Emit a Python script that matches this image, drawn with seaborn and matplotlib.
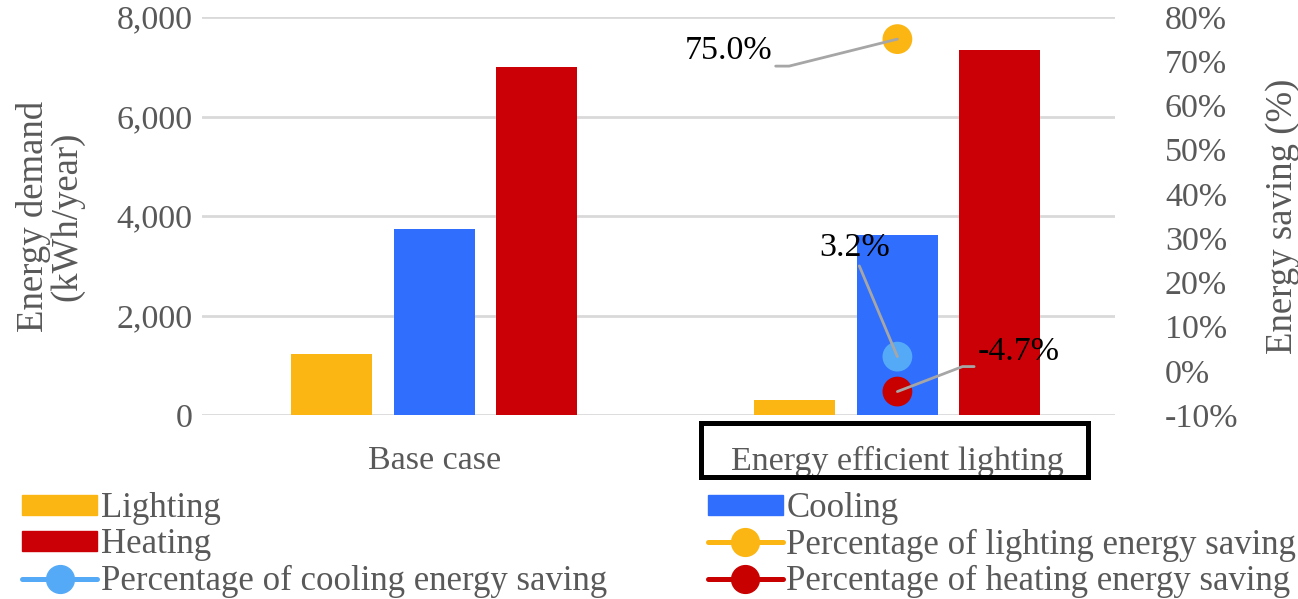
import numpy as np
import pandas as pd
import matplotlib
matplotlib.use("Agg")
import matplotlib.pyplot as plt
from matplotlib.patches import Rectangle, Patch
from matplotlib.lines import Line2D
from matplotlib.ticker import PercentFormatter, FuncFormatter
import seaborn as sns

# ---- data ----
scenarios = ["Base case", "Energy efficient lighting"]
end_uses = ["Lighting", "Cooling", "Heating"]
lighting = [1230, 305]
cooling = [3740, 3620]
heating = [7000, 7330]
saving_labels = ["Percentage of lighting energy saving",
                 "Percentage of cooling energy saving",
                 "Percentage of heating energy saving"]
saving_values = [0.750, 0.032, -0.047]   # for "Energy efficient lighting"
saving_texts = ["75.0%", "3.2%", "-4.7%"]

bar_colors = ["#FBB613", "#306EFD", "#CB0007"]
point_colors = ["#FBB613", "#55AAF7", "#C80000"]
GRAY = "#595959"

sns.set_style("white")
plt.rcParams["font.family"] = ["Liberation Serif", "DejaVu Serif"]
plt.rcParams["axes.unicode_minus"] = False

TICK_FS = 24.5
LAB_FS = 26.5
LEG_FS = 25
ANN_FS = 24.5

df = pd.DataFrame({
    "Scenario": scenarios * 3,
    "End use": [u for u in end_uses for _ in scenarios],
    "Energy": lighting + cooling + heating,
})

fig = plt.figure(figsize=(12.98, 5.99), dpi=100)
ax = fig.add_axes([202 / 1298, (599 - 415) / 599, (1115 - 202) / 1298, (415 - 17) / 599])

sns.barplot(data=df, x="Scenario", y="Energy", hue="End use", order=scenarios,
            hue_order=end_uses, palette=bar_colors, saturation=1,
            width=0.664, gap=0.21, linewidth=0, legend=False, ax=ax, zorder=2)

ax.set_xlim(-0.502, 1.47)
ax.set_ylim(0, 8000)
ax.set_yticks([0, 2000, 4000, 6000, 8000])
ax.yaxis.set_major_formatter(FuncFormatter(lambda v, p: f"{int(v):,}"))
ax.yaxis.grid(True, color="#D9D9D9", lw=2, zorder=0)
ax.set_axisbelow(True)
for s in ax.spines.values():
    s.set_visible(False)
ax.tick_params(axis="y", length=0, pad=7, labelsize=TICK_FS, labelcolor=GRAY)
ax.tick_params(axis="x", length=0, pad=22, labelsize=TICK_FS, labelcolor=GRAY)
ax.set_xlabel("")
ax.set_ylabel("Energy demand\n(kWh/year)", fontsize=LAB_FS, color=GRAY, labelpad=23,
              linespacing=0.95)

ax2 = ax.twinx()
sns.scatterplot(x=[1, 1, 1], y=saving_values, hue=saving_labels,
                palette=point_colors, s=460, linewidth=0, legend=False,
                ax=ax2, zorder=5, clip_on=False)
ax2.set_ylim(-0.10, 0.80)
ax2.set_yticks(np.arange(-0.1, 0.81, 0.1))
ax2.yaxis.set_major_formatter(PercentFormatter(1.0, decimals=0))
for s in ax2.spines.values():
    s.set_visible(False)
ax2.tick_params(axis="y", length=0, pad=36, labelsize=TICK_FS, labelcolor=GRAY)
ax2.set_ylabel("Energy saving (%)", fontsize=LAB_FS, color=GRAY, labelpad=19)
ax2.grid(False)

# data labels with leader lines
lead = dict(arrowstyle="-", color="#A6A6A6", lw=2, shrinkA=0, shrinkB=0)
ax2.annotate(saving_texts[0], xy=(1, saving_values[0]), xytext=(-125, -27),
             textcoords="offset pixels", ha="right", va="bottom", fontsize=ANN_FS,
             color="black", zorder=6,
             arrowprops=dict(lead, relpos=(1, 0),
                             connectionstyle="angle,angleA=0,angleB=14,rad=0"))
ax2.annotate(saving_texts[1], xy=(1, saving_values[1]), xytext=(-43, 94),
             textcoords="offset pixels", ha="center", va="bottom", fontsize=ANN_FS,
             color="black", zorder=6,
             arrowprops=dict(lead, relpos=(0.55, 0)))
ax2.annotate(saving_texts[2], xy=(1, saving_values[2]), xytext=(80, 25),
             textcoords="offset pixels", ha="left", va="bottom", fontsize=ANN_FS,
             color="black", zorder=6,
             arrowprops=dict(lead, relpos=(0, 0),
                             connectionstyle="angle,angleA=0,angleB=21,rad=0"))

# box around second category label
fig.patches.append(Rectangle((700.5 / 1298, (599 - 476.5) / 599), 387 / 1298, 54 / 599,
                             transform=fig.transFigure, fill=False,
                             edgecolor="black", lw=3.6))

# legend (row-wise order as in the reference)
h_light = Patch(color=bar_colors[0], label=end_uses[0])
h_cool = Patch(color=bar_colors[1], label=end_uses[1])
h_heat = Patch(color=bar_colors[2], label=end_uses[2])
h_pl = Line2D([], [], color=point_colors[0], lw=3.6, marker="o", markersize=20,
              label=saving_labels[0])
h_pc = Line2D([], [], color=point_colors[1], lw=3.6, marker="o", markersize=20,
              label=saving_labels[1])
h_ph = Line2D([], [], color=point_colors[2], lw=3.6, marker="o", markersize=20,
              label=saving_labels[2])
handles = [h_light, h_heat, h_pc, h_cool, h_pl, h_ph]
leg = fig.legend(handles=handles, ncol=2, loc="upper left",
                 bbox_to_anchor=(22 / 1298, (599 - 492) / 599),
                 frameon=False, fontsize=LEG_FS, borderpad=0, borderaxespad=0,
                 handlelength=2.17, handleheight=0.5, handletextpad=0.1,
                 labelspacing=0.1, columnspacing=2.9)
for t in leg.get_texts():
    t.set_color(GRAY)

fig.savefig("out.png", dpi=100)
